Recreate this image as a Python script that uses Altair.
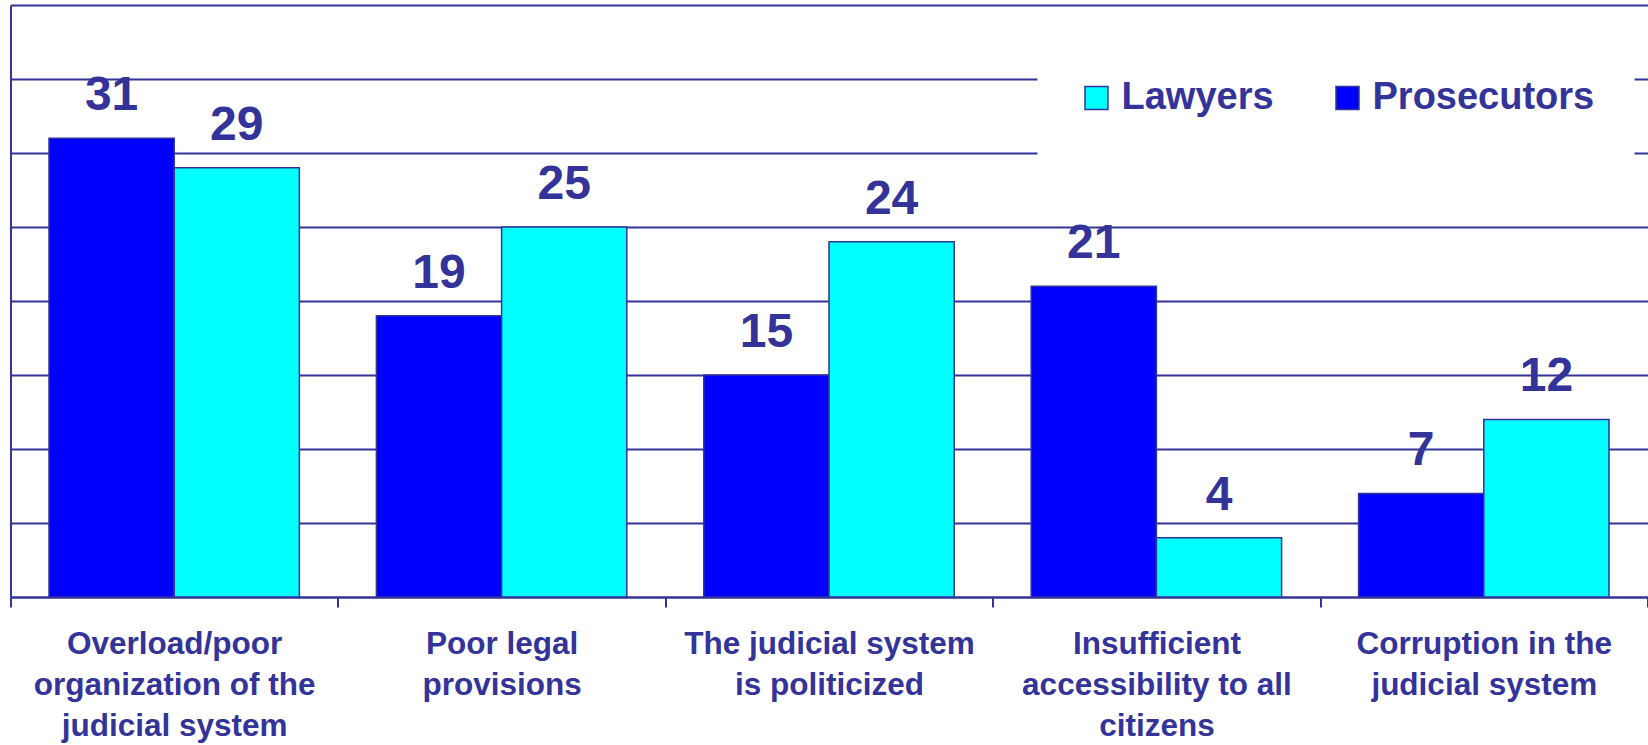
import altair as alt
import pandas as pd

categories = [
    "Overload/poor|organization of the|judicial system",
    "Poor legal|provisions",
    "The judicial system|is politicized",
    "Insufficient|accessibility to all|citizens",
    "Corruption in the|judicial system",
]
prosecutors = [31, 19, 15, 21, 7]
lawyers = [29, 25, 24, 4, 12]
groups = ["Prosecutors", "Lawyers"]
legend_order = ["Lawyers", "Prosecutors"]
colors = ["#00FFFF", "#0000FF"]
grid_values = [0, 5, 10, 15, 20, 25, 30, 35, 40]

rows = []
for c, p, l in zip(categories, prosecutors, lawyers):
    rows.append({"Category": c, "Group": "Prosecutors", "Value": p})
    rows.append({"Category": c, "Group": "Lawyers", "Value": l})
df = pd.DataFrame(rows)

INK = "#333399"
FONT = "Liberation Sans"

x = alt.X(
    "Category:N",
    sort=categories,
    scale=alt.Scale(paddingInner=0, paddingOuter=0),
    axis=alt.Axis(
        title=None,
        labelAngle=0,
        grid=False,
        tickBand="extent",
        tickSize=10,
        tickColor=INK,
        tickWidth=2,
        domainColor=INK,
        domainWidth=2,
        labelExpr="split(datum.label, '|')",
        labelFont=FONT,
        labelFontSize=31.5,
        labelFontWeight="bold",
        labelColor=INK,
        labelPadding=21,
        labelLineHeight=41,
        labelBaseline="top",
        labelLimit=400,
    ),
)
xoff = alt.XOffset(
    "Group:N",
    sort=groups,
    scale=alt.Scale(paddingOuter=0.3075, paddingInner=0),
)
y = alt.Y(
    "Value:Q",
    scale=alt.Scale(domain=[0, 40], nice=False),
    axis=alt.Axis(
        title=None,
        values=grid_values,
        labels=False,
        ticks=False,
        grid=True,
        gridColor=INK,
        gridWidth=2,
        gridOpacity=1,
        domainColor=INK,
        domainWidth=2,
    ),
)

bars = alt.Chart(df).mark_bar(stroke=INK, strokeWidth=1.5).encode(
    x=x,
    xOffset=xoff,
    y=y,
    color=alt.Color(
        "Group:N",
        scale=alt.Scale(domain=legend_order, range=colors),
        legend=alt.Legend(
            title=None,
            orient="none",
            legendX=1027,
            legendY=34,
            direction="horizontal",
            fillColor="white",
            padding=40,
            labelFont=FONT,
            labelFontSize=38,
            labelFontWeight="bold",
            labelColor=INK,
            labelLimit=400,
            labelOffset=6,
            columnPadding=54,
            symbolType="square",
            symbolSize=529,
            symbolStrokeColor=INK,
            symbolStrokeWidth=1.5,
            symbolOpacity=1,
        ),
    ),
)

labels = alt.Chart(df).mark_text(
    dy=-28,
    baseline="alphabetic",
    font=FONT,
    fontSize=48,
    fontWeight="bold",
    color=INK,
).encode(
    x=alt.X("Category:N", sort=categories),
    xOffset=alt.XOffset("Group:N", sort=groups),
    y=alt.Y("Value:Q"),
    text=alt.Text("Value:Q"),
)

chart = (
    alt.layer(bars, labels)
    .properties(
        width=1637,
        height=592,
        autosize=alt.AutoSizeParams(type="none"),
        padding={"left": 10.5, "top": 5, "right": 0, "bottom": 148},
        background="white",
    )
    .configure_view(stroke=None)
)

chart.save("out.html", embed_options={"renderer": "svg", "actions": False})
